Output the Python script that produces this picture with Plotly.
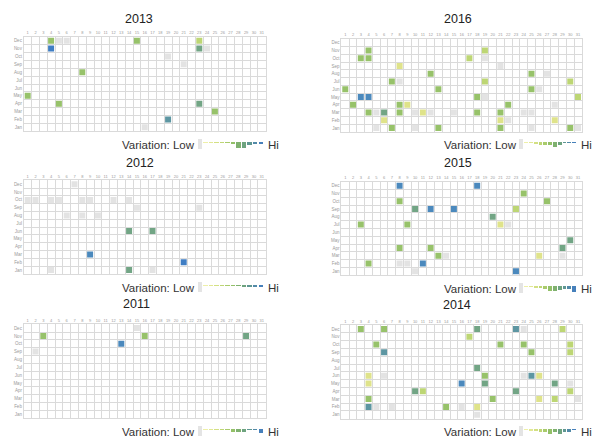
import plotly.graph_objects as go

# ---------------- data ----------------
months = ['Jan', 'Feb', 'Mar', 'Apr', 'May', 'Jun', 'Jul', 'Aug', 'Sep', 'Oct', 'Nov', 'Dec']
days = list(range(1, 32))

# variation level codes -> colour
level_colors = {
    'G': '#e3e3e3',  # lowest (grey)
    'Y': '#dfe38a',  # yellow
    'L': '#bdd674',  # light green
    'M': '#97c26a',  # green
    'T': '#72a585',  # teal green
    'S': '#5d96a2',  # teal blue
    'B': '#4b89bd',  # blue
    'D': '#3f7ec4',  # dark blue (highest)
}

cells_2013 = [('Dec', 4, 'M'), ('Dec', 5, 'G'), ('Dec', 6, 'G'), ('Dec', 15, 'M'), ('Dec', 23, 'L'),
              ('Nov', 4, 'D'), ('Nov', 23, 'T'), ('Nov', 24, 'G'), ('Oct', 19, 'G'), ('Sep', 21, 'G'),
              ('Aug', 8, 'M'), ('May', 1, 'M'), ('Apr', 5, 'M'), ('Apr', 23, 'T'), ('Mar', 25, 'M'),
              ('Feb', 19, 'S'), ('Jan', 16, 'G')]

cells_2016 = [('Nov', 4, 'M'), ('Nov', 19, 'L'),
              ('Oct', 3, 'M'), ('Oct', 4, 'M'), ('Oct', 17, 'L'), ('Oct', 19, 'G'),
              ('Sep', 8, 'Y'), ('Sep', 21, 'G'),
              ('Aug', 12, 'M'), ('Aug', 25, 'M'), ('Aug', 27, 'G'),
              ('Jul', 7, 'M'), ('Jul', 8, 'G'), ('Jul', 19, 'L'), ('Jul', 30, 'L'),
              ('Jun', 1, 'M'), ('Jun', 13, 'M'), ('Jun', 25, 'M'), ('Jun', 26, 'G'),
              ('May', 3, 'B'), ('May', 4, 'B'), ('May', 18, 'M'), ('May', 19, 'G'), ('May', 31, 'L'),
              ('Apr', 2, 'M'), ('Apr', 8, 'M'), ('Apr', 9, 'Y'), ('Apr', 22, 'M'), ('Apr', 28, 'G'),
              ('Mar', 4, 'M'), ('Mar', 5, 'G'), ('Mar', 6, 'T'), ('Mar', 8, 'M'), ('Mar', 10, 'G'),
              ('Mar', 11, 'Y'), ('Mar', 12, 'G'), ('Mar', 15, 'G'), ('Mar', 18, 'M'), ('Mar', 21, 'M'),
              ('Mar', 24, 'G'), ('Mar', 25, 'G'),
              ('Feb', 6, 'Y'), ('Feb', 21, 'Y'), ('Feb', 22, 'G'), ('Feb', 28, 'Y'),
              ('Jan', 5, 'G'), ('Jan', 7, 'M'), ('Jan', 10, 'G'), ('Jan', 13, 'M'), ('Jan', 21, 'M'),
              ('Jan', 25, 'G'), ('Jan', 30, 'M'), ('Jan', 31, 'G')]

cells_2012 = [('Dec', 7, 'G'),
              ('Oct', 1, 'G'), ('Oct', 2, 'G'), ('Oct', 4, 'G'), ('Oct', 5, 'G'), ('Oct', 8, 'G'),
              ('Oct', 9, 'G'), ('Oct', 12, 'G'), ('Oct', 14, 'G'),
              ('Sep', 15, 'G'), ('Sep', 23, 'G'),
              ('Aug', 6, 'G'), ('Aug', 8, 'G'), ('Aug', 10, 'G'),
              ('Jun', 14, 'T'), ('Jun', 17, 'T'),
              ('Mar', 9, 'B'), ('Feb', 21, 'D'),
              ('Jan', 4, 'G'), ('Jan', 14, 'T'), ('Jan', 17, 'G')]

cells_2015 = [('Dec', 8, 'B'), ('Dec', 18, 'B'), ('Nov', 24, 'M'), ('Oct', 8, 'M'), ('Oct', 27, 'M'),
              ('Sep', 10, 'T'), ('Sep', 12, 'B'), ('Sep', 15, 'B'), ('Sep', 23, 'L'),
              ('Aug', 20, 'T'),
              ('Jul', 3, 'M'), ('Jul', 9, 'M'), ('Jul', 21, 'Y'), ('Jul', 22, 'G'),
              ('May', 30, 'T'),
              ('Apr', 8, 'M'), ('Apr', 12, 'M'), ('Apr', 29, 'T'),
              ('Mar', 13, 'M'), ('Mar', 14, 'G'), ('Mar', 26, 'Y'), ('Mar', 29, 'G'),
              ('Feb', 4, 'M'), ('Feb', 8, 'G'), ('Feb', 9, 'G'), ('Feb', 11, 'B'),
              ('Jan', 10, 'G'), ('Jan', 23, 'B')]

cells_2011 = [('Dec', 15, 'G'), ('Nov', 3, 'M'), ('Nov', 16, 'M'), ('Nov', 29, 'T'),
              ('Oct', 13, 'B'), ('Sep', 2, 'G')]

cells_2014 = [('Dec', 3, 'M'), ('Dec', 6, 'M'), ('Dec', 18, 'T'), ('Dec', 23, 'S'), ('Dec', 24, 'G'),
              ('Dec', 29, 'L'),
              ('Nov', 17, 'L'),
              ('Oct', 5, 'M'), ('Oct', 21, 'M'), ('Oct', 24, 'M'), ('Oct', 30, 'L'),
              ('Sep', 6, 'S'), ('Sep', 25, 'M'), ('Sep', 30, 'L'),
              ('Jul', 18, 'T'),
              ('Jun', 4, 'Y'), ('Jun', 6, 'G'), ('Jun', 19, 'M'), ('Jun', 24, 'G'), ('Jun', 25, 'S'),
              ('Jun', 26, 'Y'),
              ('May', 4, 'Y'), ('May', 16, 'B'), ('May', 19, 'T'), ('May', 28, 'T'), ('May', 30, 'G'),
              ('Apr', 10, 'T'), ('Apr', 11, 'L'), ('Apr', 23, 'T'), ('Apr', 30, 'L'),
              ('Mar', 4, 'M'), ('Mar', 20, 'M'), ('Mar', 26, 'Y'), ('Mar', 28, 'L'), ('Mar', 31, 'G'),
              ('Feb', 4, 'S'), ('Feb', 5, 'G'), ('Feb', 7, 'G'), ('Feb', 14, 'M'), ('Feb', 16, 'G'),
              ('Feb', 18, 'Y'),
              ('Jan', 18, 'G')]

# legend ramp (low -> high) and swatch sizes shown in each panel's legend
legend_low_color = '#e4e4e4'
legend_colors = ['#eef0a8', '#e2e894', '#d3e083', '#bfd675', '#a9cb6c', '#93c068',
                 '#7fb16f', '#6ea37f', '#5f9792', '#528aa8', '#4680bb']
legend_2013 = [1, 1, 1, 1, 1, 2, 6, 6, 3, 1.5, 1.5]
legend_2016 = [1, 1, 2, 3, 3, 3, 5, 3, 1, 1, 1]
legend_2012 = [1, 1, 1, 1, 1, 1, 1, 1.5, 1.5, 2, 2]
legend_2015 = [1, 1, 2, 2, 3, 5, 5, 4, 3, 3, 6]
legend_2011 = [1, 1, 1, 1, 1, 3, 3, 3, 1, 1, 4]
legend_2014 = [1, 2, 2, 3, 3, 5, 3, 5, 3, 3, 1]

# ---------------- layout ----------------
W, H = 594, 437
GRID = '#dadada'
FONT = 'Liberation Sans, Arial, sans-serif'


def px(x):
    return min(1.0, max(0.0, x / W))


def py(y):
    return min(1.0, max(0.0, 1 - y / H))


LEFT = dict(gx=(23.8, 265.6), sw=(197.0, 263.5))
RIGHT = dict(gx=(341.4, 581.9), sw=(519.0, 576.5))

panels = [
    dict(year='2013', cells=cells_2013, leg=legend_2013, side=LEFT, gy=(36.7, 131.3), title=(139, 19), ly=145),
    dict(year='2016', cells=cells_2016, leg=legend_2016, side=RIGHT, gy=(38.8, 131.9), title=(458, 19), ly=145),
    dict(year='2012', cells=cells_2012, leg=legend_2012, side=LEFT, gy=(180.4, 273.9), title=(140, 163), ly=288),
    dict(year='2015', cells=cells_2015, leg=legend_2015, side=RIGHT, gy=(181.8, 275.2), title=(458, 163), ly=289),
    dict(year='2011', cells=cells_2011, leg=legend_2011, side=LEFT, gy=(324.2, 418.2), title=(136, 304), ly=432),
    dict(year='2014', cells=cells_2014, leg=legend_2014, side=RIGHT, gy=(325.1, 418.6), title=(457, 305), ly=432),
]

fig = go.Figure()
layout = {}
annotations = []

for i, p in enumerate(panels):
    gi, li = 2 * i + 1, 2 * i + 2
    gs = '' if gi == 1 else str(gi)
    ls = str(li)

    cells = p['cells']
    fig.add_trace(go.Scatter(
        x=[c[1] for c in cells],
        y=[months.index(c[0]) + 1 for c in cells],
        mode='markers',
        marker=dict(symbol='square', size=6, color=[level_colors[c[2]] for c in cells],
                    line=dict(width=0)),
        xaxis='x' + gs, yaxis='y' + gs, showlegend=False, hoverinfo='skip'))

    gx0, gx1 = p['side']['gx']
    gy0, gy1 = p['gy']
    layout['xaxis' + gs] = dict(
        domain=[px(gx0), px(gx1)], range=[0.5, 31.5], anchor='y' + gs, side='top',
        tickvals=days, ticktext=[str(d) for d in days], ticks='',
        tickfont=dict(size=4, color='#9a9a9a', family=FONT),
        showgrid=False, zeroline=False, showline=True, mirror=True, linecolor=GRID, linewidth=1,
        minor=dict(tickvals=[d - 0.5 for d in range(1, 33)], showgrid=True, gridcolor=GRID,
                   gridwidth=1, ticks=''),
        fixedrange=True)
    layout['yaxis' + gs] = dict(
        domain=[py(gy1), py(gy0)], range=[0.5, 12.5], anchor='x' + gs,
        tickvals=list(range(1, 13)), ticktext=months, ticks='',
        tickfont=dict(size=4.5, color='#9a9a9a', family=FONT),
        showgrid=False, zeroline=False, showline=True, mirror=True, linecolor=GRID, linewidth=1,
        minor=dict(tickvals=[m - 0.5 for m in range(1, 14)], showgrid=True, gridcolor=GRID,
                   gridwidth=1, ticks=''),
        fixedrange=True)

    # legend swatches
    sx0, sx1 = p['side']['sw']
    ly = p['ly']
    fig.add_trace(go.Bar(
        x=list(range(12)), y=[10] + p['leg'], base=[-3] + [0] * 11,
        marker=dict(color=[legend_low_color] + legend_colors, line=dict(width=0)),
        width=0.8, xaxis='x' + ls, yaxis='y' + ls, showlegend=False, hoverinfo='skip'))
    layout['xaxis' + ls] = dict(domain=[px(sx0), px(sx1)], range=[-0.5, 11.5], anchor='y' + ls,
                                visible=False, fixedrange=True)
    layout['yaxis' + ls] = dict(domain=[py(ly + 5), py(ly - 6)], range=[8, -3], anchor='x' + ls,
                                visible=False, fixedrange=True)

    tx, ty = p['title']
    annotations.append(dict(text=p['year'], x=px(tx), y=py(ty), xref='paper', yref='paper',
                            showarrow=False, xanchor='center', yanchor='middle',
                            font=dict(size=12.5, color='#222222', family=FONT)))
    annotations.append(dict(text='Variation: Low', x=px(sx0 - 0.5), y=py(ly), xref='paper',
                            yref='paper', showarrow=False, xanchor='right', yanchor='middle',
                            font=dict(size=11.5, color='#333333', family=FONT)))
    annotations.append(dict(text='Hi', x=px(sx1 + 2.5), y=py(ly), xref='paper', yref='paper',
                            showarrow=False, xanchor='left', yanchor='middle',
                            font=dict(size=11.5, color='#333333', family=FONT)))

fig.update_layout(
    width=W, height=H, margin=dict(l=0, r=0, t=0, b=0),
    paper_bgcolor='white', plot_bgcolor='white',
    bargap=0, annotations=annotations, **layout)

fig.write_html('out.html', config={'displayModeBar': False},
               post_script="document.body.style.margin='0';document.body.style.overflow='hidden';")
